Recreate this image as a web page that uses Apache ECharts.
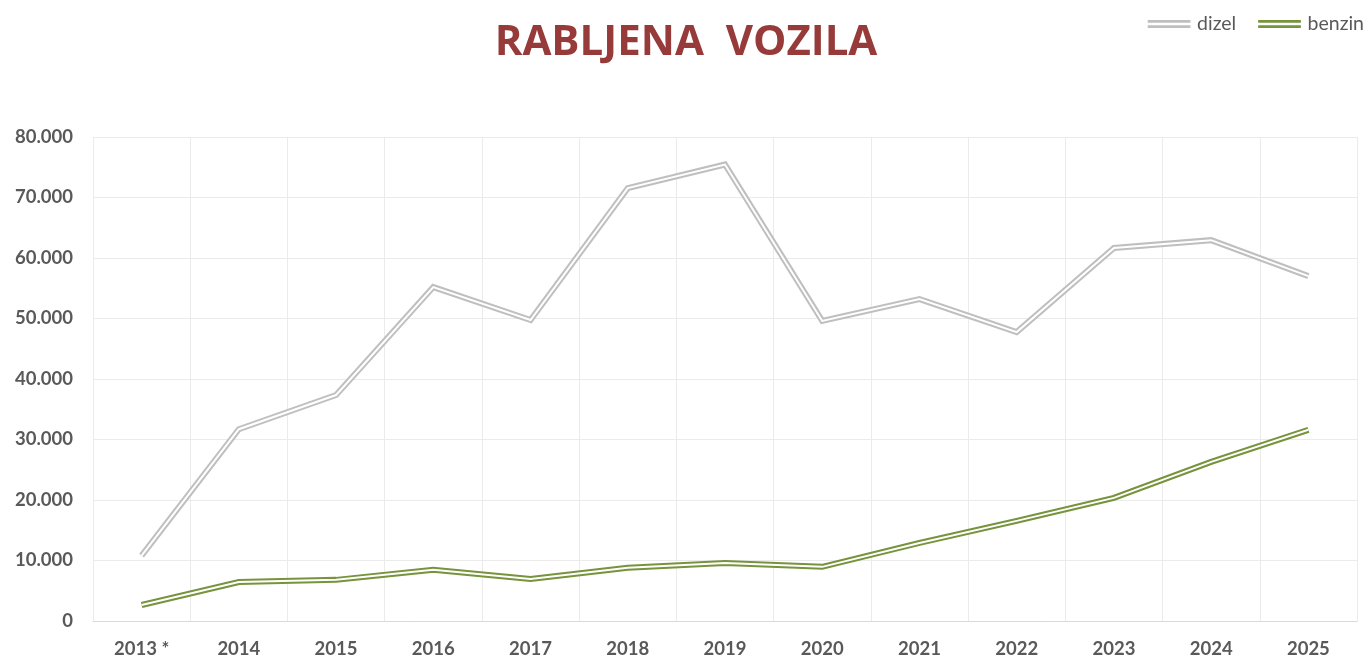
<!DOCTYPE html>
<html>
<head>
<meta charset="utf-8">
<script src="https://cdn.jsdelivr.net/npm/echarts@6/dist/echarts.min.js"></script>
<style>
  html, body { margin: 0; padding: 0; background: #fff; }
  #show_picture { width: 1372px; height: 659px; }
</style>
</head>
<body>
<div id="show_picture"></div>
<script>
const years = ['2013 *', '2014', '2015', '2016', '2017', '2018', '2019', '2020', '2021', '2022', '2023', '2024', '2025'];
const dizel = [10800, 31700, 37350, 55200, 49750, 71550, 75450, 49600, 53200, 47750, 61650, 62950, 57000];
const benzin = [2650, 6450, 6800, 8450, 6950, 8800, 9600, 8950, 12900, 16550, 20350, 26300, 31600];

const myChart = echarts.init(document.getElementById('show_picture'));
const font = 'Lato, "Open Sans", sans-serif';
const twoLines = 'path://M0,0H40V2.5H0Z M0,5H40V7.5H0Z';

// double line: a wide coloured stroke with a thin white one on top
function doubleLine(name, data, color, z) {
    return [
        {
            name: name,
            type: 'line',
            data: data,
            symbol: 'none',
            z: z,
            lineStyle: { color: color, width: 6, join: 'miter' },
            itemStyle: { color: color }
        },
        {
            name: name + '_inner',
            type: 'line',
            data: data,
            symbol: 'none',
            silent: true,
            z: z + 1,
            lineStyle: { color: '#ffffff', width: 2, join: 'miter' }
        }
    ];
}

let option = {
    animation: false,
    title: {
        text: 'RABLJENA  VOZILA',
        left: 'center',
        top: 17,
        textStyle: {
            color: '#963a3a',
            fontFamily: '"Open Sans", Lato, sans-serif',
            fontWeight: 'bold',
            fontSize: 42
        }
    },
    legend: {
        right: 3,
        top: 9,
        itemWidth: 46,
        itemHeight: 8,
        itemGap: 22,
        icon: twoLines,
        data: ['dizel', 'benzin'],
        textStyle: { color: '#595959', fontFamily: font, fontSize: 19.5 }
    },
    grid: { left: 93, right: 15, top: 137, bottom: 38 },
    xAxis: {
        type: 'category',
        data: years,
        axisLine: { lineStyle: { color: '#d9d9d9' } },
        axisTick: { show: false },
        splitLine: { show: true, lineStyle: { color: '#ebebeb' } },
        axisLabel: { color: '#595959', fontFamily: font, fontWeight: 'bold', fontSize: 18.5, margin: 19 }
    },
    yAxis: {
        type: 'value',
        min: 0,
        max: 80000,
        interval: 10000,
        axisLine: { show: false },
        axisTick: { show: false },
        splitLine: { lineStyle: { color: '#ebebeb' } },
        axisLabel: {
            color: '#595959',
            fontFamily: font,
            fontWeight: 'bold',
            fontSize: 18.5,
            margin: 20,
            formatter: v => v === 0 ? '0' : (v / 1000) + '.000'
        }
    },
    series: [].concat(
        doubleLine('dizel', dizel, '#bfbfbf', 2),
        doubleLine('benzin', benzin, '#77933c', 4)
    )
};

option && myChart.setOption(option);
</script>
</body>
</html>
